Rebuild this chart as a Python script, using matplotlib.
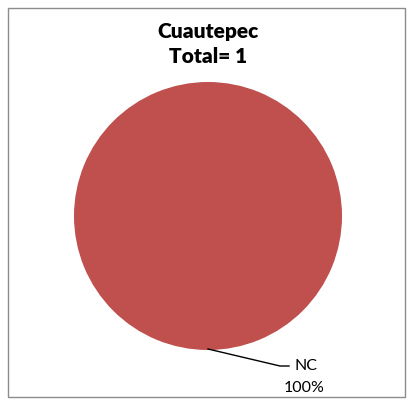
import matplotlib.pyplot as plt
from matplotlib.patches import Rectangle

# data
categories = ['NC']
values = [1]
colors = ['#C0504D']
title = 'Cuautepec\nTotal= ' + str(sum(values))

plt.rcParams['font.family'] = ['Lato', 'DejaVu Sans']

fig = plt.figure(figsize=(4.09, 4.01), dpi=100)
ax = fig.add_axes([0, 0, 1, 1])

wedges, _ = ax.pie(values, colors=colors, center=(208, 216), radius=134,
                   startangle=90, counterclock=False)
ax.set_xlim(0, 409)
ax.set_ylim(401, 0)
ax.axis('off')

# outer chart border
ax.add_patch(Rectangle((8, 8), 397, 389, fill=False, edgecolor='#8c8c8c', lw=1))

ax.text(208, 44, title, ha='center', va='center', fontsize=15,
        fontweight='heavy', linespacing=1.4)

# leader line + label
total = sum(values)
pct = values[0] / total * 100
ax.plot([208, 280, 289], [349, 366, 366], color='black', lw=1)
ax.text(294, 366, categories[0], ha='left', va='center', fontsize=11.5)
ax.text(304, 388, f'{pct:.0f}%', ha='center', va='center', fontsize=11.5)

fig.savefig('out.png', dpi=100)
